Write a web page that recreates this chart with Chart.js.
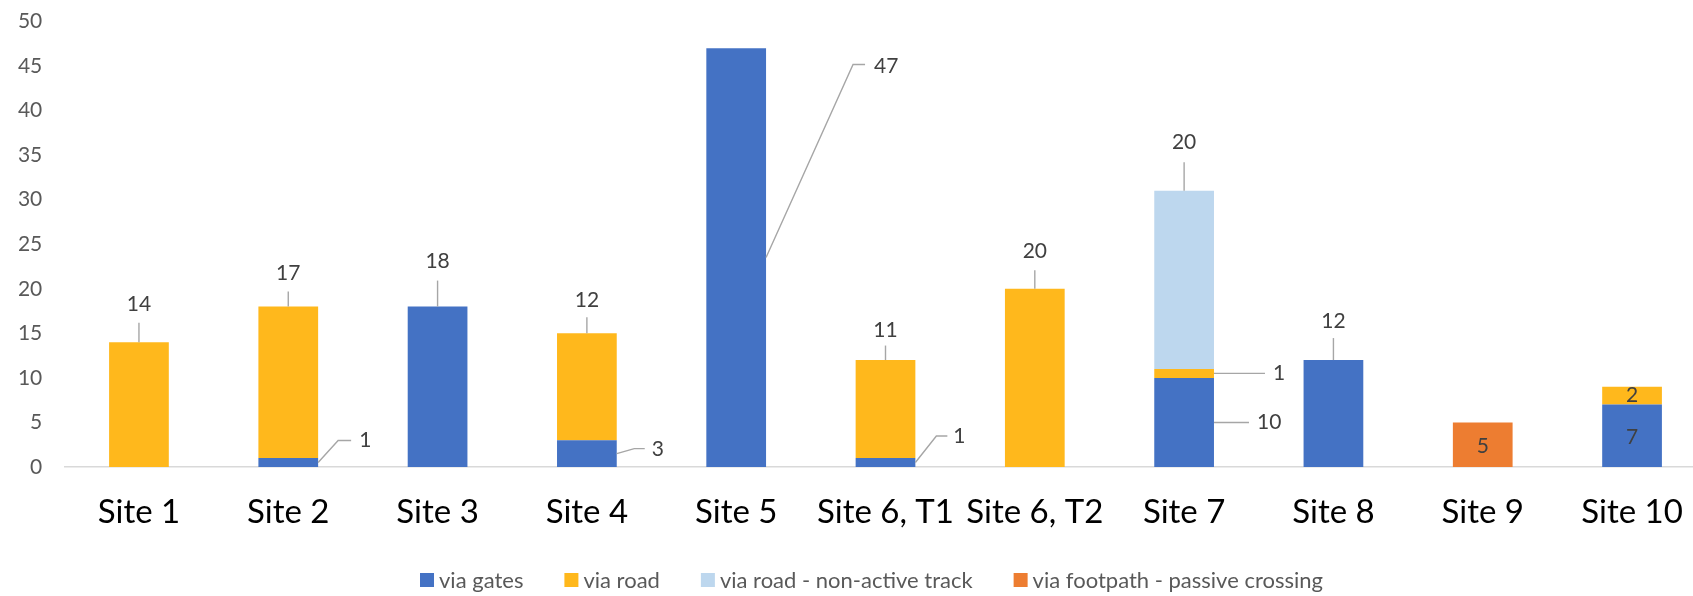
<!DOCTYPE html>
<html>
<head>
<meta charset="utf-8">
<script src="https://cdn.jsdelivr.net/npm/chart.js@4.4.1/dist/chart.umd.min.js"></script>
<style>
  html, body { margin: 0; padding: 0; background: #fff; overflow: hidden; }
  #wrap { width: 1720px; height: 596px; }
</style>
</head>
<body>
<div id="wrap"><canvas id="sitesChart" width="1720" height="596"></canvas></div>
<script>
// ── données ──
const sites = ['Site 1', 'Site 2', 'Site 3', 'Site 4', 'Site 5', 'Site 6, T1', 'Site 6, T2', 'Site 7', 'Site 8', 'Site 9', 'Site 10'];
const viaGates     = [null, 1, 18, 3, 47, 1, null, 10, 12, null, 7];
const viaRoad      = [14, 17, null, 12, null, 11, 20, 1, null, null, 2];
const viaRoadTrack = [null, null, null, null, null, null, null, 20, null, null, null];
const viaFootpath  = [null, null, null, null, null, null, null, null, null, 5, null];
const yMax = 50;
const yStep = 5;

const seriesNames  = ['via gates', 'via road', 'via road - non-active track', 'via footpath - passive crossing'];
const seriesColors = ['#4472C4', '#FFB81C', '#BDD7EE', '#ED7D31'];

// étiquettes avec traits de rappel : ds = série, i = site
// at : 'top' (haut du segment), 'right' (bord droit, milieu du segment), 'center'
const callouts = [
  { ds: 1, i: 0, at: 'top', line: [[0, -19.5]], label: [0, -38], align: 'center' },
  { ds: 1, i: 1, at: 'top', line: [[0, -15]], label: [0, -33.5], align: 'center' },
  { ds: 0, i: 1, at: 'right', line: [[20, -22], [33, -22]], label: [41, -22], align: 'left' },
  { ds: 0, i: 2, at: 'top', line: [[0, -26]], label: [0, -45], align: 'center' },
  { ds: 1, i: 3, at: 'top', line: [[0, -16]], label: [0, -32.6], align: 'center' },
  { ds: 0, i: 3, at: 'right', line: [[17.5, -5], [28, -5]], label: [35, -4], align: 'left' },
  { ds: 0, i: 4, at: 'right', line: [[87, -193], [99, -193]], label: [108, -191], align: 'left' },
  { ds: 1, i: 5, at: 'top', line: [[0, -14.5]], label: [0, -29.5], align: 'center' },
  { ds: 0, i: 5, at: 'right', line: [[21, -26.5], [32, -26.5]], label: [38, -26], align: 'left' },
  { ds: 1, i: 6, at: 'top', line: [[0, -18.6]], label: [0, -38], align: 'center' },
  { ds: 2, i: 7, at: 'top', line: [[0, -28.5]], label: [0, -48], align: 'center' },
  { ds: 1, i: 7, at: 'right', line: [[51, 0]], label: [59, 0], align: 'left' },
  { ds: 0, i: 7, at: 'right', line: [[35, 0]], label: [43, 0], align: 'left' },
  { ds: 0, i: 8, at: 'top', line: [[0, -22]], label: [0, -39], align: 'center' },
  { ds: 3, i: 9, at: 'center', line: [], label: [0, 2], align: 'center' },
  { ds: 1, i: 10, at: 'center', line: [], label: [0, 0], align: 'center' },
  { ds: 0, i: 10, at: 'center', line: [], label: [0, 1], align: 'center' },
];

const calloutPlugin = {
  id: 'callouts',
  afterDatasetsDraw(chart) {
    const ctx = chart.ctx;
    ctx.save();
    ctx.lineWidth = 1.4;
    ctx.strokeStyle = '#A6A6A6';
    ctx.fillStyle = '#404040';
    ctx.font = '21px Lato';
    ctx.textBaseline = 'middle';
    callouts.forEach(c => {
      const el = chart.getDatasetMeta(c.ds).data[c.i];
      const value = chart.data.datasets[c.ds].data[c.i];
      if (!el || value == null) return;
      const p = el.getProps(['x', 'y', 'base', 'width'], true);
      let ax = p.x, ay = p.y;
      if (c.at === 'right') { ax = p.x + p.width / 2; ay = (p.y + p.base) / 2; }
      if (c.at === 'center') { ay = (p.y + p.base) / 2; }
      if (c.line.length) {
        ctx.beginPath();
        ctx.moveTo(ax, ay);
        c.line.forEach(([dx, dy]) => ctx.lineTo(ax + dx, ay + dy));
        ctx.stroke();
      }
      ctx.textAlign = c.align;
      ctx.fillText(String(value), ax + c.label[0], ay + c.label[1]);
    });
    ctx.restore();
  }
};

// légende dessinée à la main (carré collé au texte comme dans Excel)
const legendPlugin = {
  id: 'bottomLegend',
  afterDraw(chart) {
    const ctx = chart.ctx;
    const box = 14, gap = 5, spacing = 41, cx = 871.5, cy = 580;
    ctx.save();
    ctx.font = '22px Lato';
    ctx.textBaseline = 'middle';
    ctx.textAlign = 'left';
    const widths = seriesNames.map(n => ctx.measureText(n).width);
    const total = widths.reduce((s, w) => s + box + gap + w, 0) + spacing * (seriesNames.length - 1);
    let x = cx - total / 2;
    seriesNames.forEach((n, k) => {
      ctx.fillStyle = seriesColors[k];
      ctx.fillRect(x, cy - box / 2, box, box);
      ctx.fillStyle = '#595959';
      ctx.fillText(n, x + box + gap, cy + 1);
      x += box + gap + widths[k] + spacing;
    });
    ctx.restore();
  }
};

const seriesData = [viaGates, viaRoad, viaRoadTrack, viaFootpath];

new Chart(document.getElementById('sitesChart'), {
  type: 'bar',
  data: {
    labels: sites,
    datasets: seriesData.map((d, k) => ({
      label: seriesNames[k],
      data: d,
      backgroundColor: seriesColors[k],
      borderWidth: 0,
      categoryPercentage: 1,
      barPercentage: 0.4,
    }))
  },
  options: {
    responsive: false,
    animation: false,
    layout: { padding: { top: 21.4, right: 13.3, left: 0, bottom: 0 } },
    plugins: {
      legend: { display: false },
      tooltip: { enabled: false },
    },
    scales: {
      x: {
        stacked: true,
        grid: { display: false, drawTicks: false },
        border: { color: '#D9D9D9', width: 1.5 },
        ticks: { color: '#000', font: { family: 'Lato', size: 33 }, padding: 26, maxRotation: 0, autoSkip: false },
        afterFit: s => { s.height = 129; },
      },
      y: {
        stacked: true,
        min: 0,
        max: yMax,
        grid: { display: false, drawTicks: false },
        border: { display: false },
        ticks: { stepSize: yStep, color: '#595959', font: { family: 'Lato', size: 21 }, padding: 22 },
        // largeur fixe, et la marge des graduations ne pousse pas le haut de la zone
        afterFit: s => { s.width = 64.3; s.paddingTop = 0; s.paddingBottom = 0; },
      }
    }
  },
  plugins: [calloutPlugin, legendPlugin]
});
</script>
</body>
</html>
